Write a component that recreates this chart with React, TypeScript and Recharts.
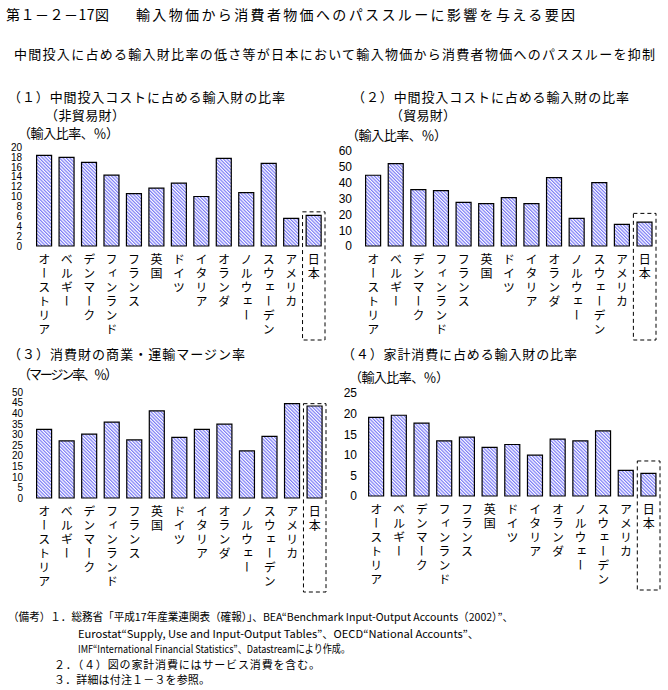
import React from "react"
import { BarChart, Bar, XAxis, YAxis, ReferenceArea } from "recharts"

// 国名（横軸）
const countries = [
  "オーストリア", "ベルギー", "デンマーク", "フィンランド", "フランス", "英国",
  "ドイツ", "イタリア", "オランダ", "ノルウェー", "スウェーデン", "アメリカ", "日本",
]

// (1) 中間投入コストに占める輸入財の比率（非貿易財）
const nonTradedShare = [18.3, 17.9, 16.9, 14.3, 10.6, 11.7, 12.7, 10.0, 17.7, 10.8, 16.7, 5.6, 6.2]
// (2) 中間投入コストに占める輸入財の比率（貿易財）
const tradedShare = [44.7, 52.0, 35.6, 35.0, 27.5, 26.8, 30.6, 26.8, 43.2, 17.4, 40.0, 13.6, 15.1]
// (3) 消費財の商業・運輸マージン率
const marginRate = [32.4, 26.9, 30.1, 35.8, 27.4, 41.1, 28.6, 32.4, 34.8, 22.2, 29.1, 44.5, 43.4]
// (4) 家計消費に占める輸入財の比率
const householdShare = [19.1, 19.6, 17.7, 13.4, 14.3, 11.8, 12.5, 9.9, 13.8, 13.4, 15.8, 6.2, 5.5]

const ticks1 = [0, 2, 4, 6, 8, 10, 12, 14, 16, 18, 20]
const ticks2 = [0, 10, 20, 30, 40, 50, 60]
const ticks3 = [0, 5, 10, 15, 20, 25, 30, 35, 40, 45, 50]
const ticks4 = [0, 5, 10, 15, 20, 25]

// 日本を囲む点線枠の上端（各図の目盛り単位）
const japanBoxTop = [6.9, 20.6, 44.5, 8.5]

const JP_FONT = "'Noto Sans CJK JP', sans-serif"

const makeYTick = (size: number) => (props: any) => {
  const { x, y, payload } = props
  return (
    <text x={x} y={y} dy={size * 0.37} textAnchor="end" fontSize={size} fontFamily="'Liberation Sans', sans-serif" fill="#000">
      {payload.value}
    </text>
  )
}

const XTick = (props: any) => {
  const { x, y, payload } = props
  return (
    <text
      x={x}
      y={y + 7}
      fontSize={12}
      fontFamily={JP_FONT}
      fill="#000"
      letterSpacing={2}
      style={{ writingMode: "vertical-rl" }}
    >
      {payload.value}
    </text>
  )
}

interface PanelProps {
  id: string;
  values: number[];
  ticks: number[];
  boxTop: number;
  left: number;
  top: number;
  width: number;
  height: number;
  marginTop: number;
  marginRight: number;
  yWidth: number;
  xHeight: number;
  labelGap: number;
  tickFont: number;
}

const Panel: React.FC<PanelProps> = (p) => {
  const data = countries.map((name, i) => ({ name, value: p.values[i] }))
  const max = p.ticks[p.ticks.length - 1]
  const YTick = makeYTick(p.tickFont)
  return (
    <div style={{ position: "absolute", left: p.left, top: p.top }}>
      <BarChart
        width={p.width}
        height={p.height}
        data={data}
        margin={{ top: p.marginTop, right: p.marginRight, left: 0, bottom: 0 }}
        barCategoryGap="16%"
      >
        <defs>
          <pattern id={p.id} patternUnits="userSpaceOnUse" width="2.4" height="2.4" patternTransform="rotate(-45)">
            <rect width="2.4" height="2.4" fill="#fff" />
            <rect width="1.2" height="2.4" fill="#7a7af6" />
          </pattern>
        </defs>
        <XAxis
          dataKey="name"
          interval={0}
          height={p.xHeight}
          tickLine={false}
          axisLine={false}
          tickSize={0}
          tickMargin={0}
          tick={<XTick />}
        />
        <YAxis
          type="number"
          domain={[0, max]}
          ticks={p.ticks}
          interval={0}
          width={p.yWidth}
          tickLine={false}
          axisLine={false}
          tickSize={0}
          tickMargin={p.labelGap}
          tick={<YTick />}
        />
        <Bar dataKey="value" fill={`url(#${p.id})`} stroke="#000" strokeWidth={1.2} isAnimationActive={false} />
        <ReferenceArea
          x1="日本"
          x2="日本"
          y1={0}
          y2={p.boxTop}
          ifOverflow="visible"
          shape={(s: any) => (
            <rect x={s.x} y={s.y} width={s.width} height={s.height + 94}
              fill="none" stroke="#000" strokeWidth={1} strokeDasharray="4 3" />
          )}
        />
        <ReferenceArea fill="none" fillOpacity={0} stroke="#000" strokeWidth={2.5} ifOverflow="visible" />
      </BarChart>
    </div>
  )
}

const T = ({ x, y, len, size = 13, squeeze = false, children }: any) => (
  <text x={x} y={y} textLength={len} lengthAdjust={squeeze ? "spacingAndGlyphs" : "spacing"}
    fontSize={size} fontFamily={JP_FONT} fill="#000">{children}</text>
)

export default function App() {
  return (
    <div style={{ position: "absolute", left: 0, top: 0, width: 668, height: 690, background: "#fff" }}>
      <svg width={668} height={690} style={{ position: "absolute", left: 0, top: 0 }}>
        <T x={6} y={20} len={103} size={14}>第１－２－17図</T>
        <T x={136} y={20} len={439} size={14}>輸入物価から消費者物価へのパススルーに影響を与える要因</T>
        <T x={14} y={59} len={641}>中間投入に占める輸入財比率の低さ等が日本において輸入物価から消費者物価へのパススルーを抑制</T>

        <T x={8} y={102} len={277}>（１）中間投入コストに占める輸入財の比率</T>
        <T x={45} y={120} len={80}>（非貿易財）</T>
        <T x={18} y={138} len={101}>（輸入比率、％）</T>

        <T x={352} y={102} len={277}>（２）中間投入コストに占める輸入財の比率</T>
        <T x={390} y={120} len={66}>（貿易財）</T>
        <T x={346} y={140} len={101}>（輸入比率、％）</T>

        <T x={8} y={359} len={237}>（３）消費財の商業・運輸マージン率</T>
        <T x={18} y={379} len={100}>（マージン率、％）</T>

        <T x={342} y={359} len={235}>（４）家計消費に占める輸入財の比率</T>
        <T x={349} y={382} len={100}>（輸入比率、％）</T>

        <T x={8} y={621} len={505} size={11} squeeze>（備考）１．総務省「平成17年産業連関表（確報）」、BEA“Benchmark Input-Output Accounts（2002）”、</T>
        <T x={78} y={638} len={401} size={11} squeeze>Eurostat“Supply, Use and Input-Output Tables”、OECD“National Accounts”、</T>
        <T x={78} y={653} len={272} size={11} squeeze>IMF“International Financial Statistics”、Datastreamにより作成。</T>
        <T x={54} y={669} len={266} size={11}>２．（４）図の家計消費にはサービス消費を含む。</T>
        <T x={54} y={684} len={156} size={11}>３．詳細は付注１－３を参照。</T>
      </svg>

      <Panel id="hatch1" values={nonTradedShare} ticks={ticks1} boxTop={japanBoxTop[0]} tickFont={10}
        left={0} top={140} width={334} height={210} marginTop={7} marginRight={9} yWidth={33} xHeight={104} labelGap={11} />
      <Panel id="hatch2" values={tradedShare} ticks={ticks2} boxTop={japanBoxTop[1]} tickFont={12}
        left={334} top={140} width={334} height={210} marginTop={11} marginRight={12} yWidth={28} xHeight={104} labelGap={10} />
      <Panel id="hatch3" values={marginRate} ticks={ticks3} boxTop={japanBoxTop[2]} tickFont={10}
        left={0} top={384} width={334} height={212} marginTop={8} marginRight={8} yWidth={33} xHeight={98} labelGap={10} />
      <Panel id="hatch4" values={householdShare} ticks={ticks4} boxTop={japanBoxTop[3]} tickFont={12}
        left={334} top={384} width={334} height={212} marginTop={9} marginRight={8} yWidth={31} xHeight={100} labelGap={8} />
    </div>
  )
}
